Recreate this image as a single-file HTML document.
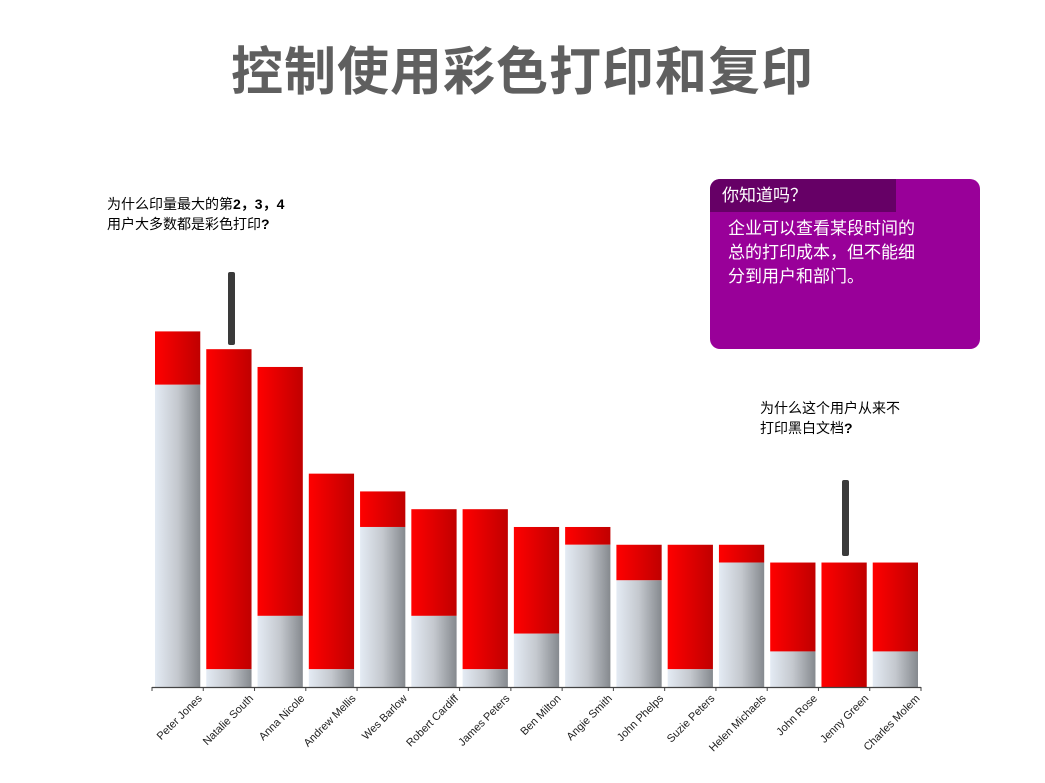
<!DOCTYPE html>
<html><head><meta charset="utf-8">
<style>
body{margin:0;width:1045px;height:783px;background:#fff;position:relative;overflow:hidden;font-family:"Liberation Sans","Noto Sans CJK SC",sans-serif;}
#title{position:absolute;left:0;width:1045px;top:30px;text-align:center;font-size:52px;font-weight:bold;color:#5f5f5f;font-family:"Liberation Sans","Noto Sans CJK SC",sans-serif;letter-spacing:1px}
.note{position:absolute;font-size:14px;line-height:20px;color:#000;}
#box{position:absolute;left:710px;top:179px;width:270px;height:170px;background:#990099;border-radius:10px;overflow:hidden}
#boxhead{position:absolute;left:0;top:0;width:174px;height:33px;background:#660066;color:#fff;font-size:17px;line-height:33px;padding-left:12px}
#boxtext{position:absolute;left:18px;top:38px;color:#fff;font-size:17px;line-height:24px}
svg{position:absolute;left:0;top:0}
</style></head><body>
<div id="title">控制使用彩色打印和复印</div>
<div class="note" style="left:107px;top:194px">为什么印量最大的第<b>2，3，4</b><br>用户大多数都是彩色打印<b>?</b></div>
<div class="note" style="left:760px;top:398px">为什么这个用户从来不<br>打印黑白文档<b>?</b></div>
<div id="box">
<div id="boxhead">你知道吗？</div>
<div id="boxtext">企业可以查看某段时间的<br>总的打印成本，但不能细<br>分到用户和部门。</div>
</div>
<svg id="chart" width="1045" height="783">
<defs>
<linearGradient id="red" x1="0" x2="1"><stop offset="0" stop-color="#ff0000"/><stop offset="1" stop-color="#c00000"/></linearGradient>
<linearGradient id="grey" x1="0" x2="1"><stop offset="0" stop-color="#e4ebf4"/><stop offset="0.5" stop-color="#c4c8ce"/><stop offset="1" stop-color="#85898e"/></linearGradient>
</defs>
</svg>
<script>
const categories=["Peter Jones","Natalie South","Anna Nicole","Andrew Mellis","Wes Barlow","Robert Cardiff","James Peters","Ben Milton","Angie Smith","John Phelps","Suzie Peters","Helen Michaels","John Rose","Jenny Green","Charles Molem"];
const totalPrints=[20,19,18,12,11,10,10,9,9,8,8,8,7,7,7];
const bwPrints=[17,1,4,1,9,4,1,3,8,6,1,7,2,0,2];
const NS="http://www.w3.org/2000/svg";
const svg=document.getElementById('chart');
const x0=152,x1=921,base=687,unit=17.78;
const band=(x1-x0)/categories.length;
const xPos=i=>x0+i*band;
const yPos=v=>base-v*unit;
function mk(t,a){const e=document.createElementNS(NS,t);for(const k in a)e.setAttribute(k,a[k]);svg.appendChild(e);return e;}
categories.forEach((c,i)=>{
  const bx=xPos(i)+3,bw=band-6;
  const r=mk('rect',{x:bx,y:yPos(totalPrints[i]),width:bw,height:(totalPrints[i]-bwPrints[i])*unit,fill:'url(#red)'});
  
  
  const g=mk('rect',{x:bx,y:yPos(bwPrints[i]),width:bw,height:bwPrints[i]*unit,fill:'url(#grey)'});
  
  
  const cx=xPos(i)+band/2+25,cy=699;
  const t=mk('text',{x:cx,y:cy,'text-anchor':'end','font-size':'11','fill':'#222','font-family':'Liberation Sans, sans-serif',transform:`rotate(-45 ${cx} ${cy})`});
  t.textContent=c;
  
  
});
const ax=mk('line',{x1:x0,x2:x1,y1:base+0.5,y2:base+0.5,stroke:'#444','stroke-width':1.2});


for(let i=0;i<=categories.length;i++){
  const tk=mk('line',{x1:xPos(i),x2:xPos(i),y1:base,y2:base+4,stroke:'#444'});
  
  
}
const m1=mk('rect',{x:228,y:272,width:7,height:73,fill:'#3a3a3a',rx:2});


const m2=mk('rect',{x:842,y:480,width:7,height:76,fill:'#3a3a3a',rx:2});


</script>
</body></html>
